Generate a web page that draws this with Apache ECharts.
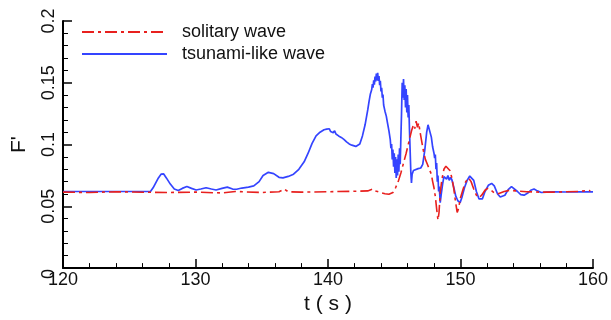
<!DOCTYPE html>
<html>
<head>
<meta charset="utf-8">
<script src="https://cdn.jsdelivr.net/npm/echarts@6/dist/echarts.min.js"></script>
<style>
  html, body { margin: 0; padding: 0; background: #fff; }
  #chart { width: 611px; height: 320px; }
</style>
</head>
<body>
<div id="chart"></div>
<script>
// Time axis (s) and force ratio F'
const xTicks = [120, 130, 140, 150, 160];
const yTicks = [0, 0.05, 0.1, 0.15, 0.2];
const seriesNames = ['solitary wave', 'tsunami-like wave'];

// solitary wave: [t, F']
const solitaryWave = [
  [120.0, 0.0615], [122.0, 0.0612], [124.0, 0.0618], [126.0, 0.0614], [128.0, 0.0612],
  [130.0, 0.0615], [132.0, 0.0608], [133.0, 0.0620], [135.0, 0.0612], [136.3, 0.0618],
  [136.7, 0.0640], [137.0, 0.0618], [138.0, 0.0615], [140.0, 0.0618], [142.0, 0.0622],
  [143.0, 0.0625], [143.4, 0.0640], [143.6, 0.0625], [144.0, 0.0610], [144.3, 0.0602],
  [144.6, 0.0598], [144.9, 0.0612], [145.1, 0.0650], [145.3, 0.0700], [145.5, 0.0770],
  [145.7, 0.0850], [145.9, 0.0930], [146.1, 0.1020], [146.3, 0.1110], [146.45, 0.1160],
  [146.55, 0.1130], [146.65, 0.1190], [146.75, 0.1140], [146.85, 0.1175], [146.95, 0.1100],
  [147.05, 0.1040], [147.2, 0.0950], [147.35, 0.0880], [147.5, 0.0840], [147.65, 0.0800],
  [147.8, 0.0760], [147.9, 0.0700], [148.0, 0.0650], [148.1, 0.0580], [148.2, 0.0480],
  [148.3, 0.0390], [148.38, 0.0450], [148.47, 0.0610], [148.6, 0.0720], [148.75, 0.0800],
  [148.9, 0.0825], [149.05, 0.0820], [149.2, 0.0790], [149.35, 0.0730], [149.5, 0.0640],
  [149.62, 0.0540], [149.75, 0.0450], [149.85, 0.0480], [150.0, 0.0570], [150.2, 0.0640],
  [150.4, 0.0700], [150.6, 0.0730], [150.8, 0.0700], [151.0, 0.0640], [151.2, 0.0590],
  [151.4, 0.0570], [151.6, 0.0590], [151.85, 0.0630], [152.05, 0.0645], [152.3, 0.0630],
  [152.6, 0.0605], [152.9, 0.0603], [153.3, 0.0620], [153.7, 0.0630], [154.2, 0.0625],
  [155.0, 0.0618], [156.0, 0.0615], [157.0, 0.0615], [158.0, 0.0618], [159.0, 0.0620],
  [159.6, 0.0630], [159.8, 0.0625]
];

// tsunami-like wave: [t, F']
const tsunamiWave = [
  [120.0, 0.0620], [126.6, 0.0620], [126.8, 0.0650], [127.0, 0.0690], [127.2, 0.0730],
  [127.4, 0.0760], [127.5, 0.0755], [127.6, 0.0762], [127.8, 0.0730], [128.1, 0.0680],
  [128.4, 0.0640], [128.7, 0.0628], [129.0, 0.0645], [129.35, 0.0660], [129.7, 0.0645],
  [130.05, 0.0632], [130.4, 0.0640], [130.8, 0.0650], [131.2, 0.0640], [131.55, 0.0632],
  [132.0, 0.0645], [132.4, 0.0655], [132.8, 0.0640], [133.1, 0.0638], [133.5, 0.0648],
  [134.0, 0.0655], [134.4, 0.0665], [134.8, 0.0700], [135.1, 0.0750], [135.5, 0.0775],
  [135.9, 0.0765], [136.3, 0.0735], [136.6, 0.0730], [137.0, 0.0742], [137.4, 0.0760],
  [137.8, 0.0800], [138.2, 0.0860], [138.5, 0.0930], [138.8, 0.1010], [139.1, 0.1070],
  [139.4, 0.1100], [139.7, 0.1120], [139.8, 0.1105], [139.9, 0.1125], [140.0, 0.1110],
  [140.1, 0.1128], [140.2, 0.1105], [140.3, 0.1120], [140.4, 0.1095], [140.5, 0.1112],
  [140.6, 0.1085], [140.7, 0.1098], [140.8, 0.1070], [140.9, 0.1080], [141.0, 0.1058],
  [141.1, 0.1066], [141.2, 0.1042], [141.3, 0.1050], [141.4, 0.1022], [141.5, 0.1030],
  [141.6, 0.1005], [141.7, 0.1012], [141.8, 0.0995], [141.95, 0.0995], [142.1, 0.0985],
  [142.25, 0.0985], [142.4, 0.1005], [142.6, 0.1070], [142.8, 0.1160], [143.0, 0.1280],
  [143.1, 0.1350], [143.2, 0.1410], [143.3, 0.1445], [143.35, 0.1490], [143.4, 0.1460],
  [143.45, 0.1520], [143.5, 0.1485], [143.55, 0.1550], [143.6, 0.1510], [143.65, 0.1575],
  [143.7, 0.1520], [143.75, 0.1580], [143.8, 0.1515], [143.85, 0.1555], [143.9, 0.1480],
  [143.95, 0.1515], [144.0, 0.1430], [144.05, 0.1460], [144.1, 0.1380], [144.15, 0.1405],
  [144.2, 0.1320], [144.3, 0.1270], [144.4, 0.1230], [144.5, 0.1170], [144.6, 0.1110],
  [144.7, 0.1040], [144.75, 0.0970], [144.8, 0.1005], [144.85, 0.0880], [144.9, 0.0960],
  [144.95, 0.0820], [145.0, 0.0930], [145.05, 0.0770], [145.1, 0.0900], [145.15, 0.0730],
  [145.2, 0.0880], [145.25, 0.0750], [145.3, 0.0920], [145.35, 0.0780], [145.4, 0.0970],
  [145.45, 0.0840], [145.5, 0.1050], [145.55, 0.1250], [145.6, 0.1500], [145.65, 0.1380],
  [145.7, 0.1530], [145.75, 0.1360], [145.8, 0.1480], [145.85, 0.1300], [145.9, 0.1450],
  [145.95, 0.1260], [146.0, 0.1400], [146.05, 0.1220], [146.1, 0.1320], [146.15, 0.1120],
  [146.2, 0.0950], [146.25, 0.0780], [146.3, 0.0690], [146.35, 0.0760], [146.45, 0.0790],
  [146.6, 0.0800], [146.8, 0.0805], [147.0, 0.0810], [147.15, 0.0840], [147.3, 0.0950],
  [147.45, 0.1100], [147.55, 0.1160], [147.65, 0.1150], [147.8, 0.1060], [147.9, 0.0980],
  [148.0, 0.0930], [148.05, 0.0890], [148.1, 0.0920], [148.15, 0.0800], [148.2, 0.0850],
  [148.25, 0.0700], [148.3, 0.0750], [148.35, 0.0620], [148.4, 0.0660], [148.47, 0.0530],
  [148.55, 0.0600], [148.65, 0.0680], [148.75, 0.0740], [148.85, 0.0740], [148.95, 0.0720],
  [149.05, 0.0750], [149.15, 0.0710], [149.25, 0.0735], [149.35, 0.0715], [149.5, 0.0650],
  [149.65, 0.0580], [149.8, 0.0545], [149.97, 0.0530], [150.1, 0.0570], [150.3, 0.0650],
  [150.5, 0.0710], [150.7, 0.0745], [150.85, 0.0750], [151.0, 0.0710], [151.2, 0.0620],
  [151.4, 0.0560], [151.5, 0.0545], [151.65, 0.0560], [151.85, 0.0620], [152.1, 0.0670],
  [152.35, 0.0685], [152.55, 0.0665], [152.8, 0.0600], [153.0, 0.0575], [153.15, 0.0570],
  [153.35, 0.0590], [153.6, 0.0635], [153.85, 0.0660], [154.0, 0.0655], [154.3, 0.0620],
  [154.55, 0.0595], [154.8, 0.0590], [155.05, 0.0605], [155.3, 0.0630], [155.55, 0.0640],
  [155.8, 0.0625], [156.1, 0.0612], [156.5, 0.0615], [157.0, 0.0618], [158.0, 0.0616],
  [159.0, 0.0618], [160.0, 0.0617]
];

const chart = echarts.init(document.getElementById('chart'), null, { renderer: 'canvas' });

const FONT = 'Liberation Sans, Arial, sans-serif';
const axisCommon = {
  type: 'value',
  axisLine: { show: true, onZero: false, lineStyle: { color: '#000', width: 2 } },
  axisTick: { show: true, inside: true, length: 9, lineStyle: { color: '#000', width: 1.5 } },
  minorTick: { show: true, splitNumber: 5, length: 5, lineStyle: { color: '#000', width: 1 } },
  splitLine: { show: false },
  minorSplitLine: { show: false }
};

chart.setOption({
  animation: false,
  backgroundColor: '#fff',
  textStyle: { fontFamily: FONT },
  grid: { left: 63, right: 16, top: 21, bottom: 46, containLabel: false },
  legend: {
    orient: 'vertical',
    left: 81,
    top: 22,
    padding: 0,
    itemWidth: 85,
    itemHeight: 20,
    itemGap: 2,
    // line-only keys: hide the marker drawn in the middle of each key
    itemStyle: { opacity: 0, color: 'rgba(0,0,0,0)', borderWidth: 0 },
    textStyle: { fontFamily: FONT, fontSize: 18, color: '#111', padding: [0, 0, 0, 10], lineHeight: 20 },
    data: seriesNames
  },
  xAxis: Object.assign({}, axisCommon, {
    min: xTicks[0],
    max: xTicks[xTicks.length - 1],
    interval: xTicks[1] - xTicks[0],
    name: 't ( s )',
    nameLocation: 'middle',
    nameGap: 21,
    nameTextStyle: { fontFamily: FONT, fontSize: 21, color: '#111', verticalAlign: 'top' },
    axisLabel: { fontFamily: FONT, fontSize: 18, color: '#111', margin: 3,
                 alignMinLabel: 'center', alignMaxLabel: 'center' }
  }),
  yAxis: Object.assign({}, axisCommon, {
    min: yTicks[0],
    max: yTicks[yTicks.length - 1],
    interval: yTicks[1] - yTicks[0],
    name: "F'",
    nameLocation: 'middle',
    nameGap: 33,
    nameTextStyle: { fontFamily: FONT, fontSize: 21, color: '#111' },
    axisLabel: {
      fontFamily: FONT, fontSize: 18, color: '#111', rotate: 90, margin: 5,
      // the bottom label sits on the axis end; pad it so it stays centred on its tick
      formatter: function (v) { return v === 0 ? '{z|0}' : String(v); },
      rich: { z: { fontFamily: FONT, fontSize: 18, color: '#111', padding: [0, 12, 0, 0] } }
    }
  }),
  series: [
    {
      name: seriesNames[0],
      type: 'line',
      data: solitaryWave,
      symbol: 'none',
      z: 3,
      lineStyle: { color: '#e8201e', width: 1.6, type: [12, 4, 3, 4] },
      itemStyle: { color: '#e8201e' }
    },
    {
      name: seriesNames[1],
      type: 'line',
      data: tsunamiWave,
      symbol: 'none',
      z: 2,
      lineStyle: { color: '#3444ff', width: 1.7 },
      itemStyle: { color: '#3444ff' }
    }
  ]
});
</script>
</body>
</html>
